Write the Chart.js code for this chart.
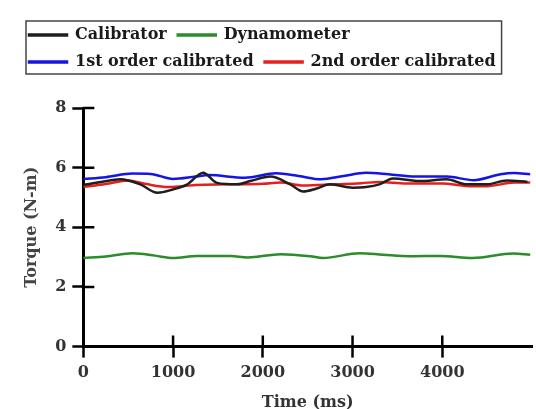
<!DOCTYPE html>
<html>
<head>
<meta charset="utf-8">
<script src="https://cdn.jsdelivr.net/npm/chart.js@4.4.1/dist/chart.umd.min.js"></script>
<style>
    html, body { margin: 0; padding: 0; background: #fff; }
</style>
</head>
<body>
<canvas id="torqueChart" width="536" height="409"></canvas>
<script>
    // values (time in ms, torque in N-m)
    const seriesNames = ['Calibrator', 'Dynamometer', '1st order calibrated', '2nd order calibrated'];

    const calibratorTime   = [0, 200, 410, 635, 825, 1000, 1160, 1335, 1490, 1715, 1860, 2085, 2305, 2450, 2600, 2750, 3000, 3150, 3300, 3450, 3750, 4050, 4275, 4500, 4720, 4950];
    const calibratorTorque = [5.42, 5.52, 5.61, 5.44, 5.16, 5.27, 5.44, 5.83, 5.49, 5.44, 5.55, 5.70, 5.44, 5.20, 5.30, 5.44, 5.33, 5.35, 5.44, 5.64, 5.55, 5.61, 5.44, 5.44, 5.57, 5.52];

    const dynoTime   = [0, 250, 550, 800, 1000, 1270, 1640, 1830, 2200, 2530, 2670, 3080, 3340, 3640, 3975, 4340, 4790, 4980];
    const dynoTorque = [2.97, 3.02, 3.13, 3.05, 2.97, 3.04, 3.04, 2.99, 3.10, 3.03, 2.97, 3.13, 3.08, 3.03, 3.04, 2.97, 3.12, 3.08];

    const firstTime   = [0, 250, 550, 750, 1000, 1250, 1400, 1800, 2150, 2400, 2650, 2900, 3150, 3400, 3700, 4050, 4350, 4650, 4800, 4980];
    const firstTorque = [5.62, 5.68, 5.80, 5.79, 5.62, 5.70, 5.75, 5.66, 5.81, 5.72, 5.61, 5.72, 5.83, 5.78, 5.70, 5.70, 5.58, 5.78, 5.82, 5.78];

    const secondTime   = [0, 250, 500, 700, 950, 1250, 1600, 2000, 2200, 2450, 2800, 3100, 3300, 3600, 4000, 4300, 4500, 4800, 4980];
    const secondTorque = [5.35, 5.45, 5.57, 5.45, 5.35, 5.42, 5.44, 5.46, 5.50, 5.40, 5.44, 5.48, 5.52, 5.47, 5.47, 5.38, 5.38, 5.50, 5.50];

    const xTicksShown = [0, 1000, 2000, 3000, 4000];
    const yTicksShown = [0, 2, 4, 6, 8];

    const toPoints = (xs, ys) => xs.map((x, i) => ({ x: x, y: ys[i] }));

    const serif = "'DejaVu Serif', 'Liberation Serif', serif";
    Chart.defaults.font.family = serif;
    Chart.defaults.font.weight = 'bold';
    Chart.defaults.font.size = 16;
    Chart.defaults.color = '#333';

    function lineSet(label, pts, color) {
        return {
            label: label,
            data: pts,
            borderColor: color,
            backgroundColor: color,
            borderWidth: 2.5,
            pointRadius: 0,
            cubicInterpolationMode: 'monotone',
            fill: false
        };
    }

    // push the plot down below the legend
    const legendMargin = {
        id: 'legendMargin',
        beforeInit(chart) {
            const fit = chart.legend.fit;
            chart.legend.fit = function() {
                fit.bind(chart.legend)();
                this.height += 28;
            };
        }
    };

    // frame around legend + tick marks on the inner side of the axes
    const decorations = {
        id: 'decorations',
        afterDraw(chart) {
            const ctx = chart.ctx;
            const boxes = chart.legend.legendHitBoxes;
            if (boxes && boxes.length) {
                const left = Math.min(...boxes.map(b => b.left)) - 3;
                const right = Math.max(...boxes.map(b => b.left + b.width)) + 6;
                const top = Math.min(...boxes.map(b => b.top)) - 6;
                const bottom = Math.max(...boxes.map(b => b.top + b.height)) + 4;
                ctx.save();
                ctx.strokeStyle = '#444';
                ctx.lineWidth = 1.5;
                ctx.strokeRect(left, top, right - left, bottom - top);
                ctx.restore();
            }

            const area = chart.chartArea;
            const xs = chart.scales.x;
            const ys = chart.scales.y;
            ctx.save();
            ctx.strokeStyle = '#000';
            ctx.lineWidth = 2.5;
            ctx.beginPath();
            xs.ticks.forEach(t => {
                const px = xs.getPixelForValue(t.value);
                ctx.moveTo(px, area.bottom);
                ctx.lineTo(px, area.bottom - 11);
            });
            ys.ticks.forEach(t => {
                const py = ys.getPixelForValue(t.value);
                ctx.moveTo(area.left, py);
                ctx.lineTo(area.left + 11, py);
            });
            ctx.stroke();
            ctx.restore();
        }
    };

    const ctx = document.getElementById('torqueChart').getContext('2d');
    const chart = new Chart(ctx, {
        type: 'line',
        data: {
            datasets: [
                lineSet(seriesNames[0], toPoints(calibratorTime, calibratorTorque), '#1e1e1e'),
                lineSet(seriesNames[1], toPoints(dynoTime, dynoTorque), '#2a8c2a'),
                lineSet(seriesNames[2], toPoints(firstTime, firstTorque), '#1414e6'),
                lineSet(seriesNames[3], toPoints(secondTime, secondTorque), '#e61e1e')
            ]
        },
        options: {
            responsive: false,
            animation: false,
            layout: { padding: { left: 18, right: 4, top: 16, bottom: -3 } },
            plugins: {
                tooltip: { enabled: false },
                legend: {
                    position: 'top',
                    align: 'start',
                    labels: {
                        boxWidth: 38,
                        boxHeight: 1,
                        padding: 11,
                        color: '#1a1a1a',
                        font: { size: 16, weight: 'bold', family: serif }
                    }
                }
            },
            scales: {
                x: {
                    type: 'linear',
                    min: 0,
                    max: 5000,
                    afterBuildTicks: scale => {
                        scale.ticks = xTicksShown.map(v => ({ value: v }));
                    },
                    grid: { drawOnChartArea: false, drawTicks: true, tickLength: 11, tickWidth: 2.5, tickColor: '#000' },
                    border: { display: true, color: '#000', width: 3 },
                    ticks: { padding: 6, color: '#333', font: { size: 16, weight: 'bold' }, callback: v => String(v) },
                    title: { display: true, text: 'Time (ms)', color: '#333', padding: { top: 4, bottom: 0 }, font: { size: 16, weight: 'bold' } }
                },
                y: {
                    min: 0,
                    max: 8,
                    afterBuildTicks: scale => {
                        scale.ticks = yTicksShown.map(v => ({ value: v }));
                    },
                    grid: { drawOnChartArea: false, drawTicks: true, tickLength: 11, tickWidth: 2.5, tickColor: '#000' },
                    border: { display: true, color: '#000', width: 3 },
                    ticks: { padding: 6, color: '#333', font: { size: 16, weight: 'bold' }, callback: v => String(v) },
                    title: { display: true, text: 'Torque (N-m)', color: '#444', padding: { top: 4, bottom: 8 }, font: { size: 16, weight: 'bold' } }
                }
            }
        },
        plugins: [legendMargin, decorations]
    });
</script>
</body>
</html>
